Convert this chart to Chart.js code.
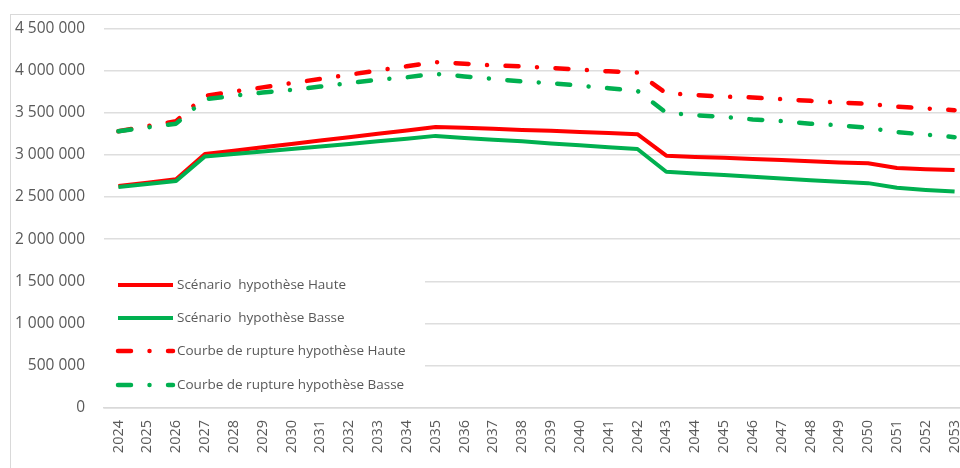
<!DOCTYPE html>
<html><head><meta charset="utf-8">
<script src="https://cdn.jsdelivr.net/npm/chart.js@4.4.1/dist/chart.umd.min.js"></script>
<style>
html,body{margin:0;padding:0;background:#fff;overflow:hidden;width:960px;height:468px;}
#frame{position:absolute;left:10px;top:14px;width:1200px;height:800px;border:1px solid #d9d9d9;}
#wrap{position:absolute;left:0;top:0;width:990px;height:468px;}
</style></head><body>
<div id="frame"></div>
<div id="wrap"><canvas id="c"></canvas></div>
<script>
const years = ['2024','2025','2026','2027','2028','2029','2030','2031','2032','2033','2034','2035','2036','2037','2038','2039','2040','2041','2042','2043','2044','2045','2046','2047','2048','2049','2050','2051','2052','2053'];
const scenarioHaute = [2630000,2670000,2710000,3010000,3050000,3090000,3130000,3170000,3210000,3250000,3290000,3330000,3320000,3310000,3295000,3285000,3270000,3260000,3245000,2990000,2975000,2965000,2950000,2940000,2925000,2910000,2900000,2845000,2830000,2820000];
const scenarioBasse = [2620000,2655000,2690000,2980000,3010000,3040000,3070000,3100000,3130000,3160000,3190000,3225000,3200000,3180000,3160000,3135000,3115000,3090000,3070000,2800000,2780000,2760000,2740000,2720000,2700000,2680000,2665000,2610000,2585000,2565000];
const ruptureHaute = [3280000,3340000,3400000,3700000,3750000,3800000,3850000,3900000,3950000,4000000,4050000,4100000,4080000,4060000,4050000,4030000,4010000,3990000,3975000,3730000,3710000,3690000,3680000,3660000,3640000,3620000,3605000,3570000,3550000,3530000];
const ruptureBasse = [3280000,3325000,3370000,3660000,3700000,3740000,3770000,3810000,3850000,3890000,3920000,3960000,3930000,3900000,3870000,3850000,3820000,3790000,3760000,3500000,3470000,3450000,3420000,3400000,3370000,3350000,3320000,3270000,3240000,3210000];
const seriesNames = ['Scénario  hypothèse Haute','Scénario  hypothèse Basse','Courbe de rupture hypothèse Haute','Courbe de rupture hypothèse Basse'];
const yTicks = [0,500000,1000000,1500000,2000000,2500000,3000000,3500000,4000000,4500000];

const RED = '#ff0000', GREEN = '#00b050';
const DASH = [13, 18.5, 0.01, 18.5];
const FONT = "'Open Sans', sans-serif";

const legendPlugin = {
  id: 'insideLegend',
  afterDraw(chart) {
    const ctx = chart.ctx, a = chart.chartArea;
    ctx.save();
    ctx.fillStyle = '#fff';
    ctx.fillRect(a.left, 252, 321, 148);
    const x0 = a.left + 14, x1 = a.left + 69;
    const rows = [285, 318, 351, 385];
    chart.data.datasets.forEach((ds, i) => {
      const y = rows[i];
      ctx.beginPath();
      ctx.strokeStyle = ds.borderColor;
      ctx.lineWidth = ds.borderWidth;
      ctx.lineCap = ds.borderCapStyle || 'butt';
      ctx.setLineDash(ds.borderDash || []);
      ctx.moveTo(x0, y); ctx.lineTo(x1, y);
      ctx.stroke();
      ctx.setLineDash([]);
      ctx.fillStyle = '#595959';
      ctx.font = "13.5px " + FONT;
      ctx.textBaseline = 'middle';
      ctx.textAlign = 'left';
      ctx.fillText(ds.label, x1 + 4, y);
    });
    ctx.restore();
  }
};

new Chart(document.getElementById('c'), {
  type: 'line',
  data: {
    labels: years,
    datasets: [
      {label: seriesNames[0], data: scenarioHaute, borderColor: RED, backgroundColor: RED, borderWidth: 4, order: 2},
      {label: seriesNames[1], data: scenarioBasse, borderColor: GREEN, backgroundColor: GREEN, borderWidth: 4, order: 1},
      {label: seriesNames[2], data: ruptureHaute, borderColor: RED, backgroundColor: RED, borderWidth: 4.5, borderDash: DASH, borderCapStyle: 'round', order: 4},
      {label: seriesNames[3], data: ruptureBasse, borderColor: GREEN, backgroundColor: GREEN, borderWidth: 4.5, borderDash: DASH, borderCapStyle: 'round', order: 3}
    ]
  },
  options: {
    responsive: true,
    maintainAspectRatio: false,
    animation: false,
    layout: {padding: {left: 0, right: 21, top: 27, bottom: 0}},
    elements: {point: {radius: 0, hoverRadius: 0}, line: {tension: 0, borderJoinStyle: 'round'}},
    plugins: {legend: {display: false}, tooltip: {enabled: false}},
    scales: {
      x: {
        offset: true,
        grid: {display: false, drawTicks: false},
        border: {display: true, color: '#d9d9d9', width: 1.5},
        ticks: {autoSkip: false, maxRotation: 90, minRotation: 90, padding: 12, color: '#595959', font: {family: FONT, size: 14.5}},
        afterFit(s) { s.height = 60; }
      },
      y: {
        min: 0, max: 4500000,
        afterBuildTicks(s) { s.ticks = yTicks.map(v => ({value: v})); },
        grid: {color: '#dedede', lineWidth: 1.5, drawTicks: false},
        border: {display: false},
        ticks: {padding: 19, color: '#595959', font: {family: FONT, size: 15.5},
          callback: v => String(v).replace(/\B(?=(\d{3})+(?!\d))/g, ' ')},
        afterFit(s) { s.width = 104; }
      }
    }
  },
  plugins: [legendPlugin]
});
</script>
</body></html>
